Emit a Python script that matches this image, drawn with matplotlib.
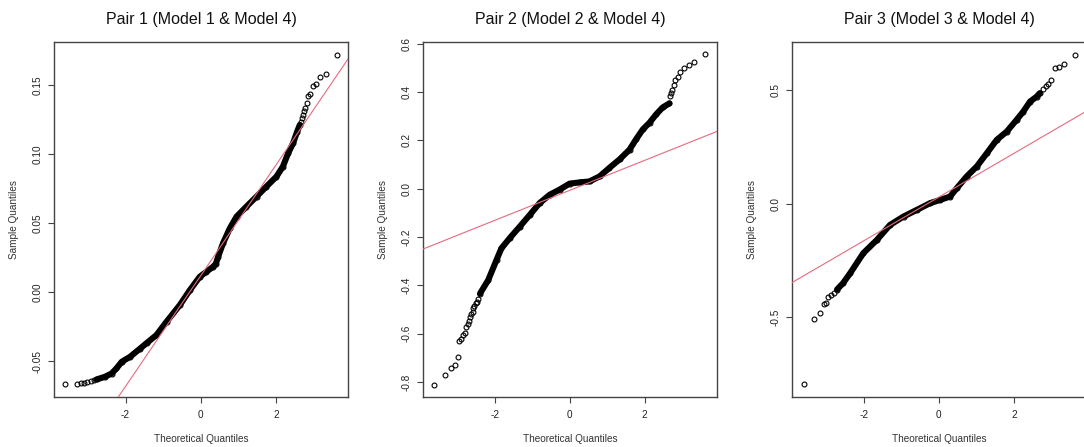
import matplotlib
matplotlib.use("Agg")
import matplotlib.pyplot as plt

plt.rcParams['font.family'] = ['Liberation Sans', 'DejaVu Sans']
plt.rcParams['axes.unicode_minus'] = False

titles = ["Pair 1 (Model 1 & Model 4)",
          "Pair 2 (Model 2 & Model 4)",
          "Pair 3 (Model 3 & Model 4)"]

# dense part of each QQ curve (theoretical quantile, sample quantile)
p1_band_x = [-2.77, -2.55, -2.37, -2.24, -2.10, -1.88, -1.62, -1.44, -1.18, -0.91, -0.557, -0.29,
             -0.027, 0.15, 0.33, 0.40, 0.46, 0.59, 0.77, 0.95, 1.21, 1.48, 1.74, 2.01, 2.18, 2.32,
             2.45, 2.56, 2.63]
p1_band_y = [-0.0633, -0.0614, -0.0590, -0.0553, -0.0505, -0.0469, -0.0411, -0.0370, -0.0312,
             -0.0215, -0.0094, 0.0014, 0.0111, 0.0147, 0.0184, 0.0205, 0.0256, 0.0353, 0.0461,
             0.0546, 0.0618, 0.0691, 0.0763, 0.0836, 0.0908, 0.1005, 0.1077, 0.1162, 0.121]
# sparse points in the tails
p1_tail_x = [-3.60, -3.30, -3.18, -3.10, -3.02, -2.93, -2.84,
             2.66, 2.70, 2.71, 2.73, 2.76, 2.82, 2.86, 2.90, 2.98, 3.06, 3.17, 3.32, 3.63]
p1_tail_y = [-0.0667, -0.0667, -0.0662, -0.0657, -0.0652, -0.0645, -0.0638,
             0.1234, 0.1259, 0.1283, 0.1312, 0.1333, 0.1367, 0.1420, 0.1435, 0.1493, 0.1507,
             0.1560, 0.1580, 0.1717]

p2_band_x = [-2.39, -2.17, -1.95, -1.82, -1.60, -1.33, -1.06, -0.80, -0.53, -0.27, 0.0, 0.27,
             0.53, 0.80, 1.06, 1.33, 1.60, 1.77, 1.95, 2.13, 2.31, 2.48, 2.66]
p2_band_y = [-0.434, -0.378, -0.295, -0.247, -0.205, -0.157, -0.108, -0.0595, -0.025, -0.004,
             0.021, 0.026, 0.030, 0.051, 0.086, 0.121, 0.162, 0.204, 0.245, 0.273, 0.308, 0.336,
             0.353]
p2_tail_x = [-3.62, -3.32, -3.16, -3.06, -2.99, -2.94, -2.91, -2.85, -2.79, -2.77, -2.72, -2.69,
             -2.65, -2.62, -2.59, -2.57, -2.55, -2.51, -2.48, -2.44,
             2.68, 2.70, 2.73, 2.77, 2.82, 2.88, 2.95, 3.05, 3.17, 3.32, 3.62]
p2_tail_y = [-0.811, -0.771, -0.740, -0.728, -0.696, -0.629, -0.624, -0.606, -0.596, -0.572,
             -0.559, -0.548, -0.531, -0.520, -0.510, -0.492, -0.486, -0.475, -0.469, -0.455,
             0.385, 0.395, 0.409, 0.428, 0.448, 0.464, 0.481, 0.498, 0.511, 0.525, 0.557]

p3_band_x = [-2.71, -2.55, -2.36, -2.01, -1.65, -1.30, -0.94, -0.59, -0.23, 0.03, 0.30, 0.48,
             0.74, 1.01, 1.28, 1.54, 1.81, 2.07, 2.25, 2.43, 2.61, 2.69]
p3_band_y = [-0.378, -0.350, -0.306, -0.218, -0.160, -0.094, -0.057, -0.028, 0.002, 0.016,
             0.031, 0.068, 0.119, 0.163, 0.222, 0.280, 0.317, 0.368, 0.405, 0.449, 0.471, 0.486]
p3_tail_x = [-3.60, -3.32, -3.16, -3.07, -3.00, -2.94, -2.87, -2.80,
             2.78, 2.85, 2.92, 2.98, 3.09, 3.21, 3.33, 3.63]
p3_tail_y = [-0.793, -0.509, -0.482, -0.441, -0.436, -0.409, -0.400, -0.392,
             0.503, 0.518, 0.527, 0.544, 0.597, 0.603, 0.612, 0.654]

# qqline fits (intercept, slope)
qq_intercepts = [0.0119, -0.007, 0.0286]
qq_slopes = [0.0401, 0.0621, 0.0962]

y_ticks = [[-0.05, 0.0, 0.05, 0.10, 0.15],
           [-0.8, -0.6, -0.4, -0.2, 0.0, 0.2, 0.4, 0.6],
           [-0.5, 0.0, 0.5]]
y_ticklabels = [["-0.05", "0.00", "0.05", "0.10", "0.15"],
                ["-0.8", "-0.6", "-0.4", "-0.2", "0.0", "0.2", "0.4", "0.6"],
                ["-0.5", "0.0", "0.5"]]
x_ticks = [-2, 0, 2]
x_limits = [(-3.90, 3.91), (-3.91, 3.93), (-3.91, 3.92)]
y_limits = [(-0.076, 0.181), (-0.862, 0.607), (-0.851, 0.711)]

bands = [(p1_band_x, p1_band_y), (p2_band_x, p2_band_y), (p3_band_x, p3_band_y)]
tails = [(p1_tail_x, p1_tail_y), (p2_tail_x, p2_tail_y), (p3_tail_x, p3_tail_y)]

fig = plt.figure(figsize=(10.84, 4.47), dpi=100)
lefts = [54, 423, 792]
W, H = 1084, 447
axc = '#444444'

for i in range(3):
    ax = fig.add_axes([lefts[i] / W, 50 / H, 294 / W, 355 / H])
    bx, by = bands[i]
    tx, ty = tails[i]
    ax.plot(bx, by, '-', color='black', lw=4.4, solid_capstyle='round',
            solid_joinstyle='round', zorder=2)
    ax.plot(bx + tx, by + ty, 'o', mfc='none', mec='black', ms=3.5, mew=0.8, zorder=3)
    ax.axline((0, qq_intercepts[i]), slope=qq_slopes[i], color='#E8697E', lw=0.8, zorder=4)

    ax.set_xlim(*x_limits[i])
    ax.set_ylim(*y_limits[i])
    ax.set_xticks(x_ticks)
    ax.set_xticklabels([str(t) for t in x_ticks])
    ax.set_yticks(y_ticks[i])
    ax.set_yticklabels(y_ticklabels[i], rotation=90, va='center')

    for s in ax.spines.values():
        s.set_color(axc)
        s.set_linewidth(1.0)
    ax.tick_params(length=4.3, width=0.8, color=axc, labelsize=7.2,
                   labelcolor='#222222')
    ax.tick_params(axis='x', pad=5)
    ax.tick_params(axis='y', pad=4)

    ax.set_title(titles[i], fontsize=11.5, pad=13, color='#111111')
    ax.set_xlabel("Theoretical Quantiles", fontsize=7.2, labelpad=10, color='#333333')
    ax.set_ylabel("Sample Quantiles", fontsize=7.2, labelpad=10, color='#333333')

fig.savefig("out.png", dpi=100)
